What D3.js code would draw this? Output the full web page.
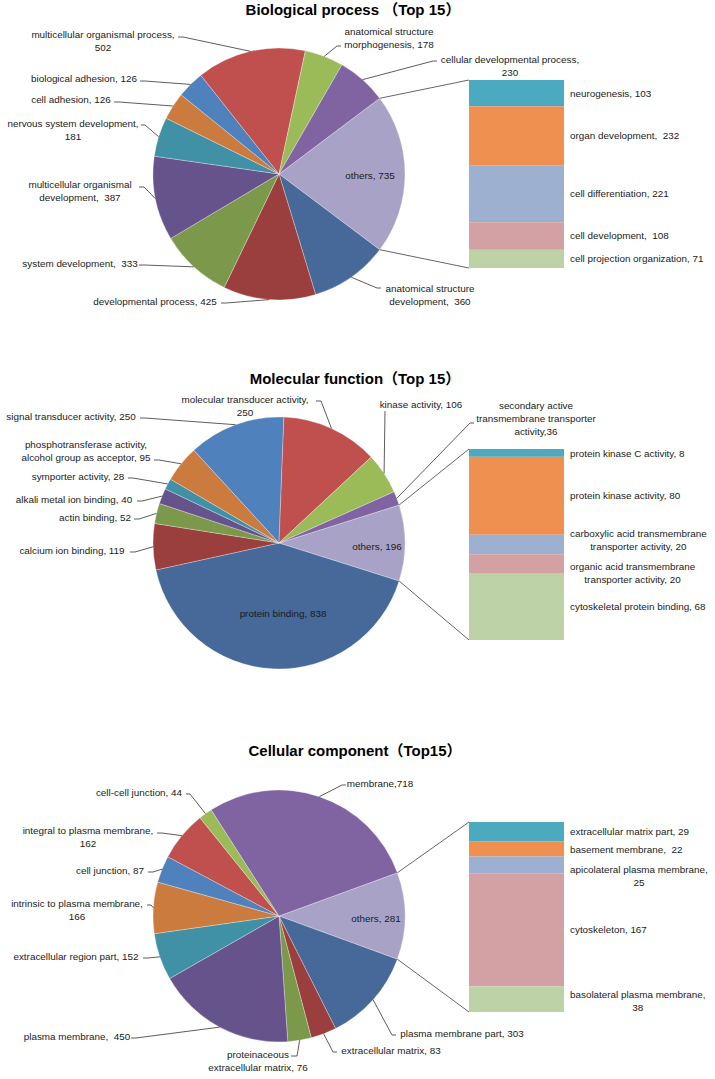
<!DOCTYPE html>
<html>
<head>
<meta charset="utf-8">
<script src="https://cdn.jsdelivr.net/npm/d3@7"></script>
<style>
  html, body { margin: 0; padding: 0; background: #fff; }
  svg { display: block; }
  .lbl { font-family: "Liberation Sans", Arial, sans-serif; font-size: 9.9px; fill: #1a1a1a; white-space: pre; }
  .ttl { font-family: "Liberation Sans", "Noto Sans CJK SC", Arial, sans-serif; font-size: 15px; font-weight: bold; fill: #000; white-space: pre; }
</style>
</head>
<body>
<svg id="chart" width="715" height="1079"></svg>
<script>
// ---------------- DATA ----------------
// Pie slices listed clockwise, starting with the "others" slice.
const bpTitle = "Biological process （Top 15）";
const bpNames = ["others", "anatomical structure\ndevelopment", "developmental process", "system development",
  "multicellular organismal\ndevelopment", "nervous system development", "cell adhesion", "biological adhesion",
  "multicellular organismal process", "anatomical structure\nmorphogenesis", "cellular developmental process"];
const bpValues = [735, 360, 425, 333, 387, 181, 126, 126, 502, 178, 230];
const bpSeps = [", ", ",  ", ", ", ",  ", ",  ", ",\n", ", ", ", ", ",\n", ", ", ",\n"];
const bpBarNames = ["neurogenesis", "organ development", "cell differentiation", "cell development", "cell projection organization"];
const bpBarValues = [103, 232, 221, 108, 71];
const bpBarSeps = [", ", ",  ", ", ", ",  ", ", "];

const mfTitle = "Molecular function（Top 15）";
const mfNames = ["others", "protein binding", "calcium ion binding", "actin binding", "alkali metal ion binding",
  "symporter activity", "phosphotransferase activity,\nalcohol group as acceptor", "signal transducer activity",
  "molecular transducer activity", "kinase activity", "secondary active\ntransmembrane transporter\nactivity"];
const mfValues = [196, 838, 119, 52, 40, 28, 95, 250, 250, 106, 36];
const mfSeps = [", ", ", ", ", ", ", ", ", ", ", ", ", ", ", ", ",\n", ", ", ","];
const mfBarNames = ["protein kinase C activity", "protein kinase activity", "carboxylic acid transmembrane\ntransporter activity",
  "organic acid transmembrane\ntransporter activity", "cytoskeletal protein binding"];
const mfBarValues = [8, 80, 20, 20, 68];
const mfBarSeps = [", ", ", ", ", ", ", ", ", "];

const ccTitle = "Cellular component（Top15）";
const ccNames = ["others", "plasma membrane part", "extracellular matrix", "proteinaceous\nextracellular matrix",
  "plasma membrane", "extracellular region part", "intrinsic to plasma membrane", "cell junction",
  "integral to plasma membrane", "cell-cell junction", "membrane"];
const ccValues = [281, 303, 83, 76, 450, 152, 166, 87, 162, 44, 718];
const ccSeps = [", ", ", ", ", ", ", ", ",  ", ", ", ",\n", ", ", ",\n", ", ", ","];
const ccBarNames = ["extracellular matrix part", "basement membrane", "apicolateral plasma membrane", "cytoskeleton", "basolateral plasma membrane"];
const ccBarValues = [29, 22, 25, 167, 38];
const ccBarSeps = [", ", ",  ", ",\n", ", ", ",\n"];

// ---------------- STYLE ----------------
const OTHERS = "#A9A2C7";
const bpColors = [OTHERS, "#46699A", "#9A3F3E", "#7C984B", "#67538C", "#4191A6", "#CC7B3F", "#4F81BD", "#C0504D", "#9BBB59", "#8064A2"];
const mfColors = [OTHERS, "#46699A", "#9A3F3E", "#7C984B", "#67538C", "#4191A6", "#CC7B3F", "#4F81BD", "#C0504D", "#9BBB59", "#8064A2"];
const ccColors = [OTHERS, "#46699A", "#9A3F3E", "#7C984B", "#67538C", "#4191A6", "#CC7B3F", "#4F81BD", "#C0504D", "#9BBB59", "#8064A2"];
const barColors = ["#4BA9C0", "#EF8F50", "#9DB0D0", "#D3A0A3", "#BED2A8"];

// ---------------- LAYOUT ----------------
// label: cx = centre x of text block, y = first baseline, lx/ly = leader end next to label, stub = horizontal stub
const bpLayout = {
  title: { x: 353, y: 15 },
  pie: { cx: 279, cy: 174, r: 126 },
  bar: { x: 469, w: 95, top: 80, bottom: 268 },
  labels: [
    { cx: 370, y: 179 },
    { cx: 430, y: 292, lx: 381, ly: 288, stub: -4 },
    { cx: 155, y: 305, lx: 221, ly: 303, stub: 5 },
    { cx: 80, y: 267, lx: 139, ly: 265, stub: 5 },
    { cx: 80, y: 188, lx: 139, ly: 187, stub: 5 },
    { cx: 73, y: 127, lx: 141, ly: 125, stub: 4 },
    { cx: 71, y: 103, lx: 114, ly: 102, stub: 5 },
    { cx: 84, y: 82, lx: 140, ly: 81, stub: 5 },
    { cx: 103, y: 38, lx: 178, ly: 37, stub: 5 },
    { cx: 389, y: 35, lx: 341, ly: 46, stub: -4 },
    { cx: 510, y: 63, lx: 437, ly: 61, stub: -4 }
  ],
  barLabels: [{}, {}, {}, {}, {}]
};
const mfLayout = {
  title: { x: 355, y: 384 },
  pie: { cx: 279, cy: 543, r: 126 },
  bar: { x: 469, w: 95, top: 449, bottom: 640 },
  labels: [
    { cx: 377, y: 550 },
    { cx: 283, y: 617 },
    { cx: 72, y: 554, lx: 130, ly: 552, stub: 5 },
    { cx: 95, y: 521, lx: 134, ly: 519, stub: 5 },
    { cx: 74, y: 503, lx: 137, ly: 501, stub: 5 },
    { cx: 78, y: 480, lx: 128, ly: 478, stub: 5 },
    { cx: 86, y: 448, lx: 154, ly: 460, stub: 5 },
    { cx: 71, y: 420, lx: 140, ly: 418, stub: 5 },
    { cx: 245, y: 403, lx: 316, ly: 401, stub: 5 },
    { cx: 421, y: 408, lx: 385, ly: 411, stub: 0 },
    { cx: 536, y: 409, lx: 474, ly: 423, stub: -4 }
  ],
  barLabels: [{ dy: 1 }, {}, { dy: -4 }, { dy: 9 }, {}]
};
const ccLayout = {
  title: { x: 355, y: 756 },
  pie: { cx: 279, cy: 916, r: 126 },
  bar: { x: 469, w: 95, top: 822, bottom: 1012 },
  labels: [
    { cx: 376, y: 922 },
    { cx: 462, y: 1037, lx: 396, ly: 1035, stub: -4 },
    { cx: 391, y: 1054, lx: 337, ly: 1052, stub: -4 },
    { cx: 258, y: 1058, lx: 291, ly: 1056, stub: 6 },
    { cx: 77, y: 1040, lx: 131, ly: 1038, stub: 5 },
    { cx: 76, y: 960, lx: 143, ly: 958, stub: 5 },
    { cx: 77, y: 907, lx: 147, ly: 905, stub: 4 },
    { cx: 110, y: 874, lx: 148, ly: 872, stub: 5 },
    { cx: 88, y: 834, lx: 157, ly: 833, stub: 5 },
    { cx: 139, y: 796, lx: 186, ly: 794, stub: 4 },
    { cx: 380, y: 787, lx: 346, ly: 785, stub: -4 }
  ],
  barLabels: [{}, { dy: 1 }, { dy: 11 }, {}, { dy: 2 }]
};

// ---------------- DRAW ----------------
const svg = d3.select("#chart");
const LINE_H = 13;

function drawBlock(g, lines, x, y, align) {
  const t = g.append("text").attr("class", "lbl").attr("xml:space", "preserve");
  const spans = lines.map((s, i) => t.append("tspan").attr("y", y + i * LINE_H).text(s));
  const widths = spans.map(sp => sp.node().getComputedTextLength());
  const maxW = d3.max(widths);
  const cx = align === "left" ? x + maxW / 2 : x;
  spans.forEach((sp, i) => sp.attr("x", cx - widths[i] / 2));
  return t;
}

function drawChart(title, names, values, seps, colors, barNames, barValues, barSeps, L) {
  const g = svg.append("g");
  g.append("text").attr("class", "ttl").attr("x", L.title.x).attr("y", L.title.y)
    .attr("text-anchor", "middle").text(title);

  const total = d3.sum(values);
  const othersAngle = values[0] / total * 2 * Math.PI;
  const start = Math.PI / 2 - othersAngle / 2;
  const pie = d3.pie().sort(null).value(d => d).startAngle(start).endAngle(start + 2 * Math.PI);
  const arcs = pie(values);
  const arc = d3.arc().innerRadius(0).outerRadius(L.pie.r);
  const pg = g.append("g").attr("transform", `translate(${L.pie.cx},${L.pie.cy})`);

  pg.selectAll("path").data(arcs).join("path")
    .attr("d", arc)
    .attr("fill", (d, i) => colors[i])
    .attr("stroke", "rgba(255,255,255,0.5)")
    .attr("stroke-width", 0.6);

  const onRim = a => [L.pie.cx + L.pie.r * Math.sin(a), L.pie.cy - L.pie.r * Math.cos(a)];

  // bar of "others"
  const y = d3.scaleLinear().domain([0, d3.sum(barValues)]).range([L.bar.top, L.bar.bottom]);
  const cum = d3.cumsum(barValues);
  const segs = barValues.map((v, i) => ({ v, y0: y(cum[i] - v), y1: y(cum[i]) }));
  g.selectAll("rect.seg").data(segs).join("rect").attr("class", "seg")
    .attr("x", L.bar.x).attr("width", L.bar.w)
    .attr("y", d => d.y0).attr("height", d => d.y1 - d.y0)
    .attr("fill", (d, i) => barColors[i]);

  // connector lines
  const pTop = onRim(arcs[0].startAngle);
  const pBot = onRim(arcs[0].endAngle);
  g.append("line").attr("x1", pTop[0]).attr("y1", pTop[1]).attr("x2", L.bar.x).attr("y2", L.bar.top)
    .attr("stroke", "#555").attr("stroke-width", 0.9);
  g.append("line").attr("x1", pBot[0]).attr("y1", pBot[1]).attr("x2", L.bar.x).attr("y2", L.bar.bottom)
    .attr("stroke", "#555").attr("stroke-width", 0.9);

  // pie labels
  arcs.forEach((d, i) => {
    const lab = L.labels[i];
    const text = names[i] + seps[i] + values[i];
    drawBlock(g, text.split("\n"), lab.cx, lab.y, "center");
    if (lab.lx !== undefined) {
      const mid = (d.startAngle + d.endAngle) / 2;
      const p = onRim(mid);
      const pts = [[lab.lx, lab.ly], [lab.lx + lab.stub, lab.ly], p];
      g.append("path").attr("d", d3.line()(pts)).attr("fill", "none")
        .attr("stroke", "#333").attr("stroke-width", 0.8);
    }
  });

  // bar labels
  segs.forEach((s, i) => {
    const lines = (barNames[i] + barSeps[i] + barValues[i]).split("\n");
    const dy = (L.barLabels[i] && L.barLabels[i].dy) || 0;
    const yc = (s.y0 + s.y1) / 2 + dy;
    const y0 = yc - (lines.length - 1) * LINE_H / 2 + 3.4;
    drawBlock(g, lines, L.bar.x + L.bar.w + 6, y0, "left");
  });
}

drawChart(bpTitle, bpNames, bpValues, bpSeps, bpColors, bpBarNames, bpBarValues, bpBarSeps, bpLayout);
drawChart(mfTitle, mfNames, mfValues, mfSeps, mfColors, mfBarNames, mfBarValues, mfBarSeps, mfLayout);
drawChart(ccTitle, ccNames, ccValues, ccSeps, ccColors, ccBarNames, ccBarValues, ccBarSeps, ccLayout);
</script>
</body>
</html>
